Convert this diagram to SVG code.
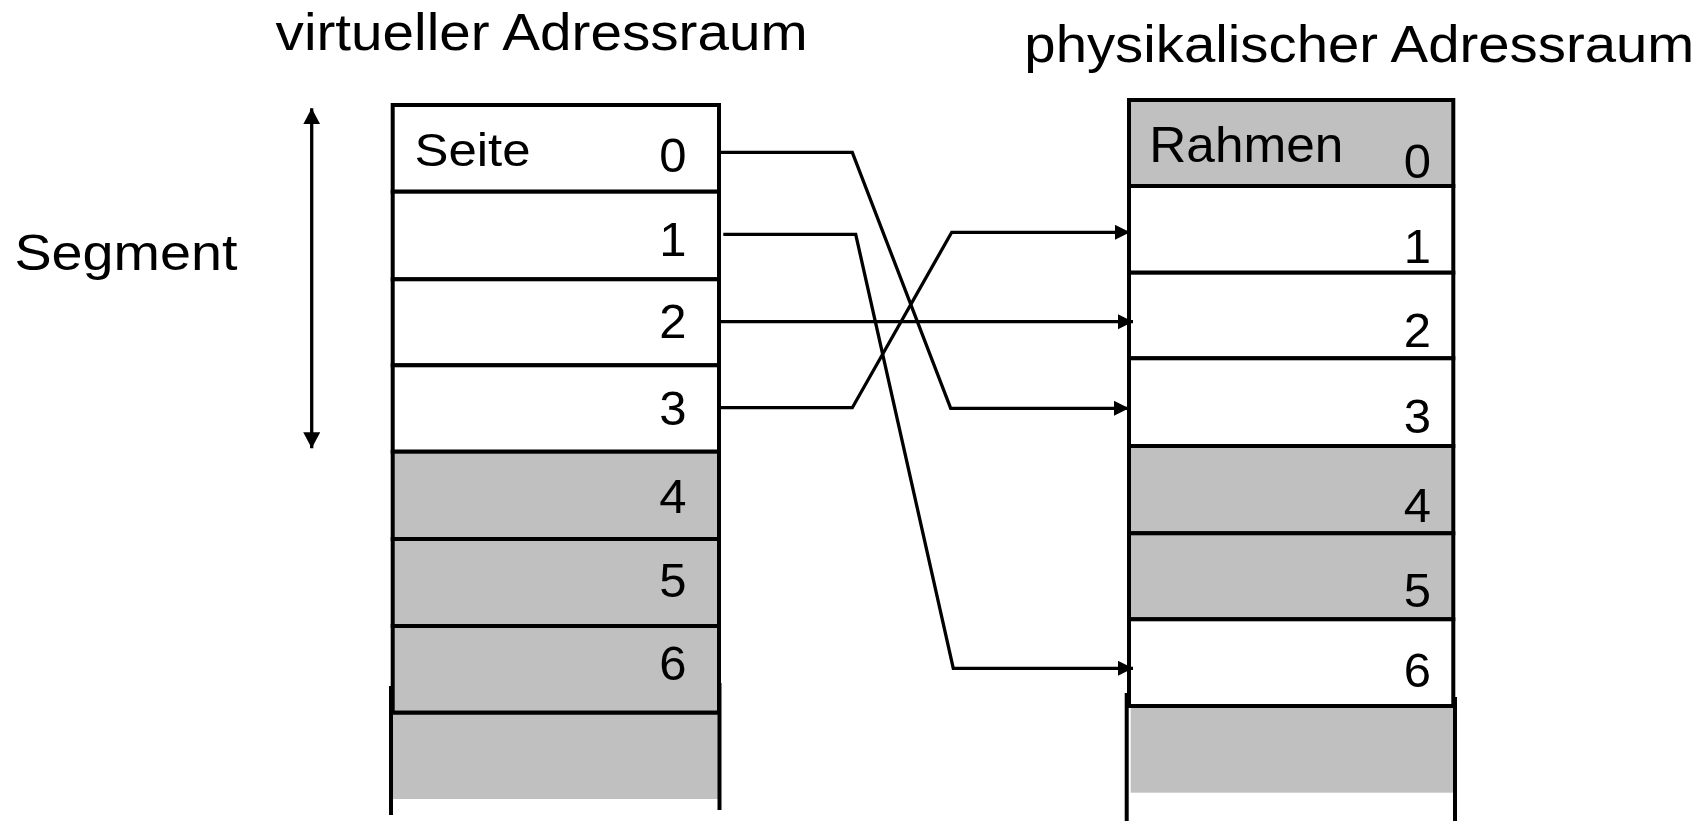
<svg xmlns="http://www.w3.org/2000/svg" width="1706" height="821" viewBox="0 0 1706 821">
<style>
.t{font-family:"Liberation Sans",Arial,sans-serif;fill:#000}
.num{font-family:"Liberation Sans",Arial,sans-serif;font-size:49px;fill:#000;text-anchor:end}
.w{fill:#fff;stroke:#000;stroke-width:4}
.g{fill:#C0C0C0;stroke:#000;stroke-width:4}
.gf{fill:#C0C0C0;stroke:none}
.ln{stroke:#000;stroke-width:4;fill:none}
.con{stroke:#000;stroke-width:3.3;fill:none;marker-end:url(#ah)}
</style>
<defs>
<marker id="ah" markerUnits="userSpaceOnUse" markerWidth="16" markerHeight="16" refX="15" refY="7.5" orient="auto">
<path d="M0,0 L15,7.5 L0,15 z" fill="#000"/>
</marker>
<marker id="ah2" markerUnits="userSpaceOnUse" markerWidth="17" markerHeight="18" refX="16" refY="8.5" orient="auto-start-reverse">
<path d="M0,0 L16,8.5 L0,17 z" fill="#000"/>
</marker>
</defs>
<rect width="1706" height="821" fill="#fff"/>

<g id="titles">
<text class="t" x="275.6" y="50" font-size="52" textLength="532" lengthAdjust="spacingAndGlyphs">virtueller Adressraum</text>
<text class="t" x="1024.3" y="62" font-size="52" textLength="670" lengthAdjust="spacingAndGlyphs">physikalischer Adressraum</text>
</g>

<g id="segment">
<text class="t" x="14.4" y="270" font-size="50" textLength="223" lengthAdjust="spacingAndGlyphs">Segment</text>
<line x1="311.7" y1="108.3" x2="311.7" y2="448.3" stroke="#000" stroke-width="3.3" marker-start="url(#ah2)" marker-end="url(#ah2)"/>
</g>

<g id="virtual">
<rect class="w" x="392.7" y="105" width="326.3" height="86.7"/>
<rect class="w" x="392.7" y="191.7" width="326.3" height="87.6"/>
<rect class="w" x="392.7" y="279.3" width="326.3" height="86"/>
<rect class="w" x="392.7" y="365.3" width="326.3" height="86.4"/>
<rect class="g" x="392.7" y="451.7" width="326.3" height="87.3"/>
<rect class="g" x="392.7" y="539" width="326.3" height="87"/>
<rect class="g" x="392.7" y="626" width="326.3" height="86.7"/>
<rect class="gf" x="392.7" y="712.7" width="326.3" height="86.3"/>
<line class="ln" x1="391" y1="686" x2="391" y2="815"/>
<line class="ln" x1="719.5" y1="683" x2="719.5" y2="810"/>
<line class="ln" x1="391" y1="712.7" x2="719.5" y2="712.7"/>
<text class="t" x="414.5" y="166" font-size="47" textLength="116" lengthAdjust="spacingAndGlyphs">Seite</text>
<text class="num" x="686.5" y="171.7">0</text>
<text class="num" x="686.5" y="255.7">1</text>
<text class="num" x="686.5" y="338.3">2</text>
<text class="num" x="686.5" y="425">3</text>
<text class="num" x="686.5" y="513.3">4</text>
<text class="num" x="686.5" y="596.7">5</text>
<text class="num" x="686.5" y="680">6</text>
</g>

<g id="physical">
<rect class="g" x="1129" y="100" width="324.3" height="86"/>
<rect class="w" x="1129" y="186" width="324.3" height="86.7"/>
<rect class="w" x="1129" y="272.7" width="324.3" height="85.6"/>
<rect class="w" x="1129" y="358.3" width="324.3" height="87.7"/>
<rect class="g" x="1129" y="446" width="324.3" height="87.3"/>
<rect class="g" x="1129" y="533.3" width="324.3" height="86"/>
<rect class="w" x="1129" y="619.3" width="324.3" height="86.7"/>
<rect class="gf" x="1130.7" y="706" width="323.3" height="86.7"/>
<line class="ln" x1="1126.7" y1="693" x2="1126.7" y2="821"/>
<line class="ln" x1="1455" y1="697" x2="1455" y2="821"/>
<line class="ln" x1="1127" y1="706" x2="1455" y2="706"/>
<text class="t" x="1149.3" y="161.7" font-size="50" textLength="194" lengthAdjust="spacingAndGlyphs">Rahmen</text>
<text class="num" x="1431" y="178.3">0</text>
<text class="num" x="1431" y="263.3">1</text>
<text class="num" x="1431" y="346.7">2</text>
<text class="num" x="1431" y="433.3">3</text>
<text class="num" x="1431" y="521.7">4</text>
<text class="num" x="1431" y="606.7">5</text>
<text class="num" x="1431" y="686.7">6</text>
</g>

<g id="connectors">
<polyline class="con" points="720,152.3 852.3,152.3 950.7,408.3 1129,408.3"/>
<polyline class="con" points="723.3,234.3 855.7,234.3 953.3,668.3 1133,668.3"/>
<polyline class="con" points="720,321.7 1133,321.7"/>
<polyline class="con" points="720,407.7 852.3,407.7 951.7,232.3 1130,232.3"/>
</g>
</svg>
